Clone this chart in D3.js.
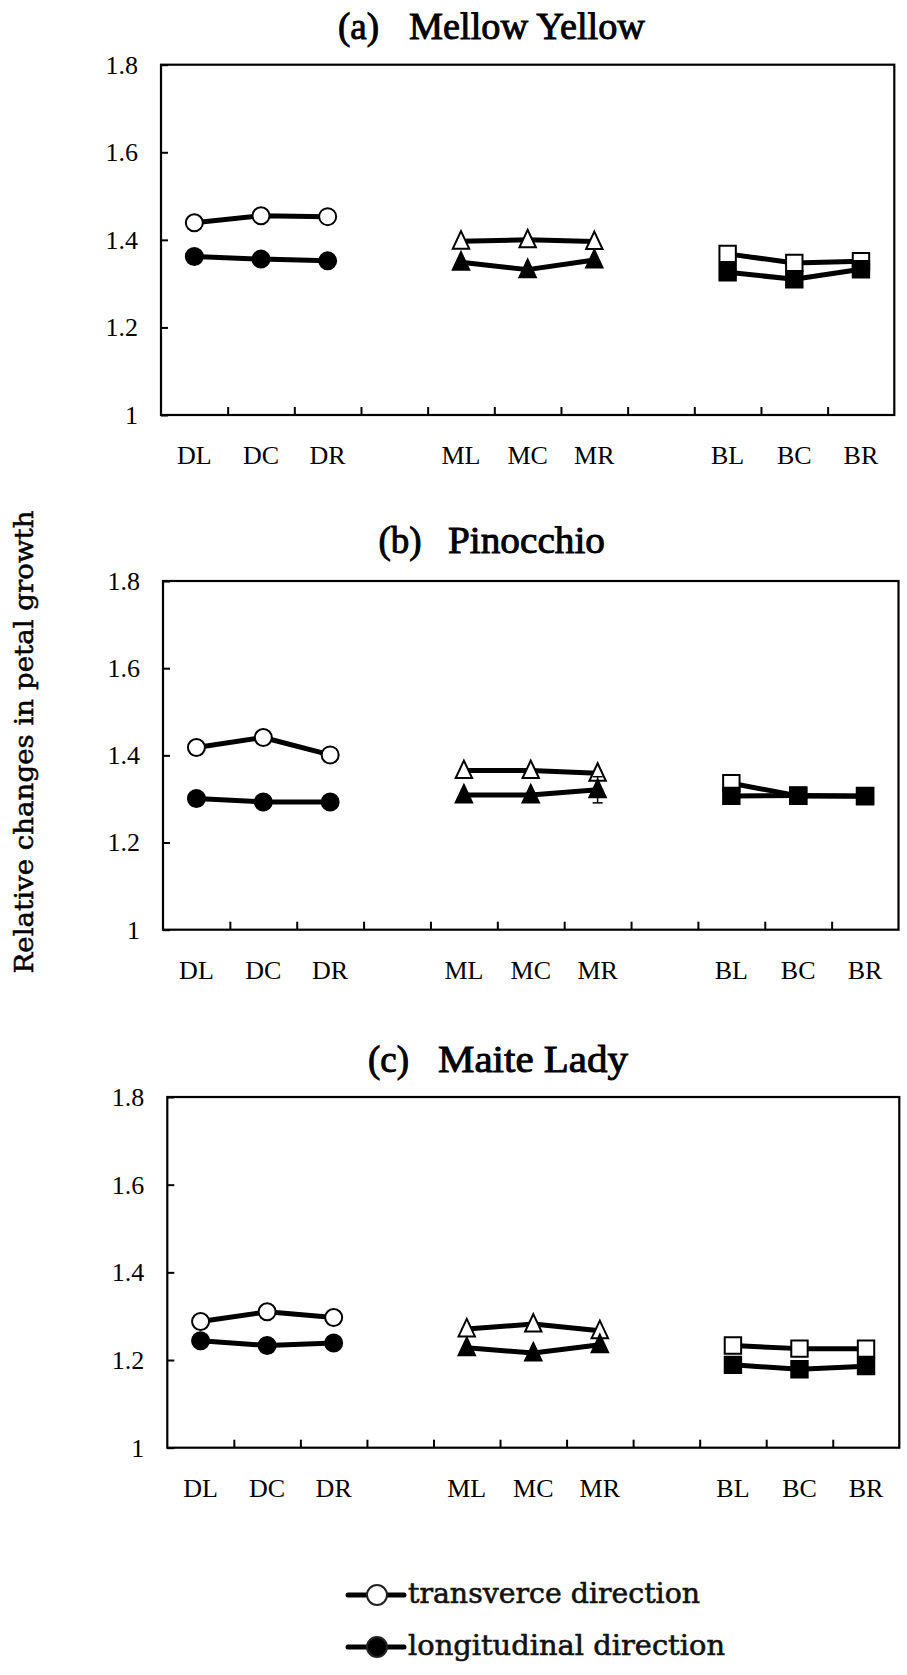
<!DOCTYPE html>
<html>
<head>
<meta charset="utf-8">
<script src="https://cdn.jsdelivr.net/npm/d3@7"></script>
<style>
  html, body { margin: 0; padding: 0; background: #fff; }
  svg { display: block; }
</style>
</head>
<body>
<svg id="chart" width="907" height="1675"></svg>
<script>
// ---------------- DATA ----------------
const categories = ["DL", "DC", "DR", "_g1", "ML", "MC", "MR", "_g2", "BL", "BC", "BR"];
const pointCats  = ["DL", "DC", "DR", "ML", "MC", "MR", "BL", "BC", "BR"];
const yTicks = [1, 1.2, 1.4, 1.6, 1.8];
const panelLetters = ["(a)", "(b)", "(c)"];
const cultivars = ["Mellow Yellow", "Pinocchio", "Maite Lady"];
const legendLabels = ["transverce direction", "longitudinal direction"];
const yAxisLabel = "Relative changes in petal growth";

// transverse (open markers) and longitudinal (filled markers), per cultivar
const transA = [1.439, 1.455, 1.453, 1.397, 1.400, 1.396, 1.368, 1.347, 1.351];
const longA  = [1.362, 1.356, 1.352, 1.349, 1.332, 1.354, 1.326, 1.310, 1.333];
const transB = [1.418, 1.441, 1.401, 1.365, 1.365, 1.359, 1.336, 1.307, 1.307];
const longB  = [1.301, 1.293, 1.293, 1.309, 1.309, 1.321, 1.307, 1.308, 1.306];
const transC = [1.288, 1.310, 1.297, 1.271, 1.282, 1.267, 1.233, 1.226, 1.226];
const longC  = [1.244, 1.233, 1.239, 1.228, 1.216, 1.235, 1.189, 1.179, 1.186];
// visible error bars only (others hidden by markers)
const errLongB = [0, 0, 0, 0, 0, 0.030, 0, 0, 0];
const errNone  = [0, 0, 0, 0, 0, 0, 0, 0, 0];

// ---------------- LAYOUT ----------------
const panels = [
  { trans: transA, long: longA, errT: errNone, errL: errNone,
    left: 161, top: 64.7, right: 894.3, bottom: 415, titleY: 39.3, t1x: 338, t2x: 409, tLen: 236 },
  { trans: transB, long: longB, errT: errNone, errL: errLongB,
    left: 163, top: 581, right: 898.5, bottom: 929.7, titleY: 553.3, t1x: 378.5, t2x: 448, tLen: 157 },
  { trans: transC, long: longC, errT: errNone, errL: errNone,
    left: 167.3, top: 1097, right: 899.3, bottom: 1447.7, titleY: 1071.6, t1x: 368, t2x: 438, tLen: 190 }
];
const groupOf = i => Math.floor(i / 3); // 0: circle, 1: triangle, 2: square

const svg = d3.select("#chart");
const tickFont = "'Liberation Serif', 'Times New Roman', serif";
const labelFont = "'DejaVu Serif', 'Liberation Serif', serif";

function markerPath(shape) {
  if (shape === 1) return "M0,-10 L8.2,7.5 L-8.2,7.5 Z";
  return "M-8.2,-8.2 L8.2,-8.2 L8.2,8.2 L-8.2,8.2 Z";
}

panels.forEach((p, pi) => {
  const g = svg.append("g");
  const x = d3.scaleBand().domain(categories).range([p.left, p.right]).padding(0);
  const xb = d3.scaleLinear().domain([0, categories.length]).range([p.left, p.right]);
  const y = d3.scaleLinear().domain([1, 1.8]).range([p.bottom, p.top]);

  // title
  const t = g.append("g")
    .attr("font-family", tickFont)
    .attr("font-size", 37)
    .attr("fill", "#000")
    .attr("stroke", "#000")
    .attr("stroke-width", 0.9);
  t.append("text").attr("x", p.t1x).attr("y", p.titleY).text(panelLetters[pi]);
  t.append("text").attr("x", p.t2x).attr("y", p.titleY)
    .attr("textLength", p.tLen).attr("lengthAdjust", "spacingAndGlyphs")
    .text(cultivars[pi]);

  // y axis
  const ya = g.append("g").attr("transform", `translate(${p.left},0)`)
    .call(d3.axisLeft(y).tickValues(yTicks).tickSize(-7).tickPadding(23)
      .tickFormat(d => String(d)));
  ya.select(".domain").remove();
  ya.selectAll("line").attr("stroke", "#000").attr("stroke-width", 2);
  ya.selectAll("text").attr("font-family", tickFont).attr("font-size", 26).attr("fill", "#000");

  // x axis labels (at category centers)
  const xa = g.append("g").attr("transform", `translate(0,${p.bottom})`)
    .call(d3.axisBottom(x).tickSize(0).tickPadding(31)
      .tickFormat(d => d.startsWith("_") ? "" : d));
  xa.select(".domain").remove();
  xa.selectAll("text").attr("font-family", tickFont).attr("font-size", 26).attr("fill", "#000");

  // x tick marks (at category boundaries, inward)
  const xt = g.append("g").attr("transform", `translate(0,${p.bottom})`)
    .call(d3.axisBottom(xb).tickValues(d3.range(1, categories.length)).tickSize(-8).tickFormat(""));
  xt.select(".domain").remove();
  xt.selectAll("line").attr("stroke", "#000").attr("stroke-width", 2);

  // frame
  g.append("rect")
    .attr("x", p.left).attr("y", p.top)
    .attr("width", p.right - p.left).attr("height", p.bottom - p.top)
    .attr("fill", "none").attr("stroke", "#000").attr("stroke-width", 2.2);

  const series = [
    { vals: p.trans, err: p.errT, fill: "#fff" },
    { vals: p.long,  err: p.errL, fill: "#000" }
  ];
  const line = d3.line()
    .x(d => x(d.c) + x.bandwidth() / 2)
    .y(d => y(d.v));

  series.forEach(s => {
    const pts = s.vals.map((v, i) => ({ c: pointCats[i], v, e: s.err[i], grp: groupOf(i) }));
    // error bars
    pts.filter(d => d.e > 0).forEach(d => {
      const cx = x(d.c) + x.bandwidth() / 2;
      g.append("line").attr("x1", cx).attr("x2", cx)
        .attr("y1", y(d.v - d.e)).attr("y2", y(d.v + d.e))
        .attr("stroke", "#000").attr("stroke-width", 1.5);
      [d.v - d.e, d.v + d.e].forEach(vv => {
        g.append("line").attr("x1", cx - 5).attr("x2", cx + 5)
          .attr("y1", y(vv)).attr("y2", y(vv))
          .attr("stroke", "#000").attr("stroke-width", 1.5);
      });
    });
    // lines per group
    d3.groups(pts, d => d.grp).forEach(([, gp]) => {
      g.append("path").attr("d", line(gp))
        .attr("fill", "none").attr("stroke", "#000").attr("stroke-width", 5)
        .attr("stroke-linejoin", "round");
    });
    // markers
    pts.forEach(d => {
      const cx = x(d.c) + x.bandwidth() / 2, cy = y(d.v);
      if (d.grp === 0) {
        g.append("circle").attr("cx", cx).attr("cy", cy).attr("r", 8.5)
          .attr("fill", s.fill).attr("stroke", "#000").attr("stroke-width", 2);
      } else {
        g.append("path").attr("d", markerPath(d.grp))
          .attr("transform", `translate(${cx},${cy})`)
          .attr("fill", s.fill).attr("stroke", "#000").attr("stroke-width", 2);
      }
    });
  });
});

// y axis label
svg.append("text")
  .attr("transform", "translate(33,742) rotate(-90)")
  .attr("text-anchor", "middle")
  .attr("font-family", labelFont)
  .attr("font-size", 26)
  .attr("textLength", 463)
  .attr("lengthAdjust", "spacingAndGlyphs")
  .attr("fill", "#000")
  .attr("stroke", "#000")
  .attr("stroke-width", 0.5)
  .text(yAxisLabel);

// legend
const legendY = [1595, 1647];
const legendFill = ["#fff", "#000"];
const legendLen = [292, 317];
legendLabels.forEach((lab, i) => {
  const lg = svg.append("g");
  lg.append("line").attr("x1", 348).attr("x2", 404)
    .attr("y1", legendY[i]).attr("y2", legendY[i])
    .attr("stroke", "#000").attr("stroke-width", 5).attr("stroke-linecap", "round");
  lg.append("circle").attr("cx", 377).attr("cy", legendY[i]).attr("r", 10)
    .attr("fill", legendFill[i]).attr("stroke", "#222").attr("stroke-width", 2);
  lg.append("text").attr("x", 408).attr("y", legendY[i] + 8)
    .attr("font-family", labelFont).attr("font-size", 28)
    .attr("textLength", legendLen[i]).attr("lengthAdjust", "spacingAndGlyphs")
    .attr("fill", "#111")
    .attr("stroke", "#111")
    .attr("stroke-width", 0.6)
    .text(lab);
});
</script>
</body>
</html>
